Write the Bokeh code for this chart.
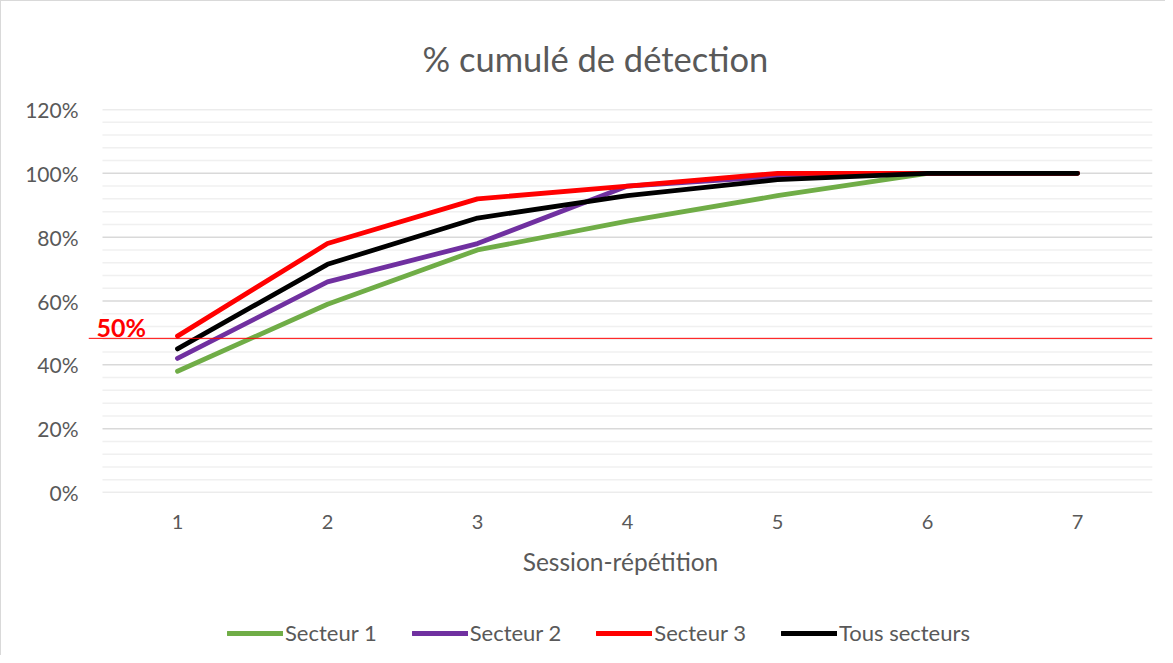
from bokeh.plotting import figure
from bokeh.layouts import column
from bokeh.models import (Range1d, NumeralTickFormatter, FixedTicker, Legend, LegendItem,
                          Label, Span, Title)
from bokeh.embed import file_html
from bokeh.resources import INLINE

sessions = [1, 2, 3, 4, 5, 6, 7]
secteur1 = [0.38, 0.59, 0.76, 0.85, 0.93, 1.00, 1.00]
secteur2 = [0.42, 0.66, 0.78, 0.96, 0.99, 1.00, 1.00]
secteur3 = [0.49, 0.78, 0.92, 0.96, 1.00, 1.00, 1.00]
tous = [0.45, 0.715, 0.86, 0.93, 0.98, 1.00, 1.00]
series_names = ["Secteur 1", "Secteur 2", "Secteur 3", "Tous secteurs"]
series_colors = ["#70AD47", "#7030A0", "#FF0000", "#000000"]
threshold = 0.483
threshold_label = "50%"
y_ticks = [0, 0.2, 0.4, 0.6, 0.8, 1.0, 1.2]
y_minor = [i * 0.04 for i in range(31) if i % 5 != 0]

FONT = "Lato"
GRAY = "#595959"

x_lo = sessions[0] - 0.5
x_hi = sessions[-1] + 0.5
x_pad = 14 / 150  # room on the left for the threshold line/label

W = 1165
H_MAIN = 586
H_LEG = 69

p = figure(width=W, height=H_MAIN, output_backend="svg", toolbar_location=None,
           x_range=Range1d(x_lo - x_pad, x_hi), y_range=Range1d(0, 1.2),
           min_border_left=87, min_border_right=14, min_border_top=108, min_border_bottom=95)
p.styles = {"border-left": "1px solid #d9d9d9", "border-top": "1px solid #d9d9d9"}
p.outline_line_color = None
p.background_fill_color = "white"

p.title = Title(text="% cumulé de détection", align="left", offset=334, text_font=FONT,
                text_font_size="34.5px", text_font_style="normal", text_color=GRAY, standoff=62)

# axes
p.xaxis.ticker = FixedTicker(ticks=sessions)
p.xaxis.axis_line_color = None
p.xaxis.major_tick_line_color = None
p.xaxis.minor_tick_line_color = None
p.xaxis.major_label_text_font = FONT
p.xaxis.major_label_text_font_size = "20px"
p.xaxis.major_label_text_color = GRAY
p.xaxis.major_label_standoff = 16
p.xaxis.axis_label = "Session-répétition"
p.xaxis.axis_label_text_font = FONT
p.xaxis.axis_label_text_font_size = "24.5px"
p.xaxis.axis_label_text_font_style = "normal"
p.xaxis.axis_label_text_color = GRAY
p.xaxis.axis_label_standoff = 15

p.yaxis.ticker = FixedTicker(ticks=y_ticks)
p.yaxis.formatter = NumeralTickFormatter(format="0%")
p.yaxis.axis_line_color = None
p.yaxis.major_tick_line_color = None
p.yaxis.minor_tick_line_color = None
p.yaxis.major_label_text_font = FONT
p.yaxis.major_label_text_font_size = "21px"
p.yaxis.major_label_text_color = GRAY
p.yaxis.major_label_standoff = 4

p.xgrid.grid_line_color = None
p.ygrid.grid_line_color = None

# gridlines spanning the category band only
p.segment(x0=[x_lo] * len(y_minor), x1=[x_hi] * len(y_minor), y0=y_minor, y1=y_minor,
          line_color="#f0f0f0", line_width=1.5)
p.segment(x0=[x_lo] * len(y_ticks), x1=[x_hi] * len(y_ticks), y0=y_ticks, y1=y_ticks,
          line_color="#d9d9d9", line_width=1.5)

all_series = [secteur1, secteur2, secteur3, tous]
for name, color, vals in zip(series_names, series_colors, all_series):
    p.line(sessions, vals, line_color=color, line_width=4.8, line_cap="round", line_join="round")

# threshold line and label
p.add_layout(Span(location=threshold, dimension="width", line_color="#FF0000", line_width=1))
p.add_layout(Label(x=x_lo - x_pad, y=threshold, text=threshold_label, x_offset=8, y_offset=-4,
                   text_font=FONT, text_font_size="25px", text_font_style="bold",
                   text_color="#FF0000"))

# legend strip below the chart (series drawn out of view, only their legend swatches show)
pl = figure(width=W, height=H_LEG, output_backend="svg", toolbar_location=None,
            x_axis_location=None, y_axis_location=None, min_border=0,
            x_range=Range1d(-20, -19), y_range=Range1d(0, 1.2))
pl.styles = {"border-left": "1px solid #d9d9d9"}
pl.outline_line_color = None
pl.grid.visible = False
items = []
for name, color, vals in zip(series_names, series_colors, all_series):
    r = pl.line(sessions, vals, line_color=color, line_width=4.8, line_cap="round")
    items.append(LegendItem(label=name, renderers=[r]))
legend = Legend(items=items, orientation="horizontal", location=(139, 9),
                glyph_width=56, glyph_height=20, label_standoff=2, spacing=35,
                label_text_font=FONT, label_text_font_size="22px", label_text_color=GRAY,
                border_line_color=None, background_fill_alpha=0, padding=0, margin=0)
pl.add_layout(legend, "center")

layout = column(p, pl, spacing=0)
open("out.html", "w").write(file_html(layout, INLINE))
